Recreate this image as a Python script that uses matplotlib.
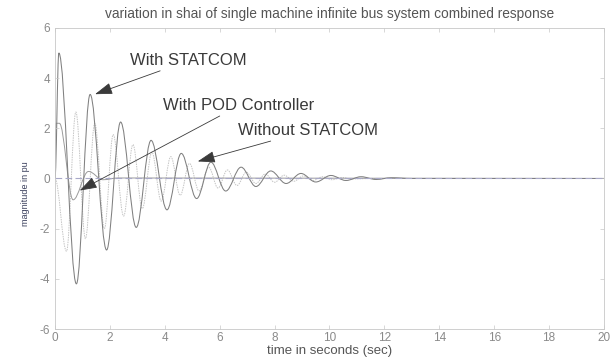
import matplotlib.pyplot as plt
from matplotlib.path import Path
from matplotlib.patches import PathPatch

plt.rcParams['font.family'] = ['Liberation Sans', 'DejaVu Sans']
plt.rcParams['axes.unicode_minus'] = False

# peaks / troughs (time in s, magnitude in pu)
statcom_t = [0.0, 0.14, 0.78, 1.28, 1.88, 2.39, 2.96, 3.5, 4.08, 4.6, 5.16, 5.68,
             6.22, 6.78, 7.32, 7.86, 8.42, 8.96, 9.5, 10.05, 10.6, 11.15, 11.7,
             12.25, 13.0, 20.0]
statcom_y = [0.0, 5.0, -4.2, 3.35, -2.85, 2.25, -1.95, 1.52, -1.25, 1.0, -0.8, 0.65,
             -0.5, 0.45, -0.32, 0.3, -0.2, 0.2, -0.14, 0.12, -0.08, 0.07, -0.04,
             0.03, 0.0, 0.0]

without_t = [0.0, 0.42, 0.76, 1.11, 1.45, 1.8, 2.12, 2.5, 2.84, 3.18, 3.53, 3.87,
             4.22, 4.56, 4.9, 5.25, 5.6, 5.94, 6.28, 6.63, 6.97, 7.32, 7.66, 8.0,
             8.35, 8.7, 9.05, 9.4, 9.75, 10.1, 10.45, 10.8, 11.5, 20.0]
without_y = [0.0, -2.9, 2.65, -2.4, 2.2, -2.0, 1.75, -1.5, 1.35, -1.2, 1.05, -0.9,
             0.87, -0.67, 0.6, -0.5, 0.45, -0.38, 0.34, -0.28, 0.25, -0.2, 0.18,
             -0.15, 0.13, -0.11, 0.1, -0.08, 0.07, -0.05, 0.04, -0.02, 0.0, 0.0]

pod_t = [0.0, 0.04, 0.16, 0.66, 1.22, 1.75, 2.3, 20.0]
pod_y = [0.0, 2.2, 2.2, -0.85, 0.28, -0.05, 0.02, 0.0]

ref_t = [0.0, 20.0]
ref_y = [0.0, 0.0]


def smooth_line(ax, ts, ys, **kw):
    # S-shaped bezier between consecutive extrema (flat tangent at each one)
    verts = [(ts[0], ys[0])]
    codes = [Path.MOVETO]
    for i in range(1, len(ts)):
        dt = ts[i] - ts[i - 1]
        verts += [(ts[i - 1] + 0.36 * dt, ys[i - 1]),
                  (ts[i] - 0.36 * dt, ys[i]),
                  (ts[i], ys[i])]
        codes += [Path.CURVE4] * 3
    ax.add_patch(PathPatch(Path(verts, codes), fill=False, **kw))


fig = plt.figure(figsize=(6.13, 3.61), dpi=100)
ax = fig.add_axes([0.0897, 0.0886, 0.8956, 0.834])

ax.plot(ref_t, ref_y, color='#a8a8c8', lw=0.8, dashes=(6, 3))
smooth_line(ax, without_t, without_y, edgecolor='#c4c4c4', lw=0.7, linestyle=(0, (1.5, 1)))
smooth_line(ax, pod_t, pod_y, edgecolor='#9a9a9a', lw=0.7)
smooth_line(ax, statcom_t, statcom_y, edgecolor='#808080', lw=0.75)

ax.set_xlim(0, 20)
ax.set_ylim(-6, 6)
ax.set_xticks(range(0, 21, 2))
ax.set_yticks(range(-6, 7, 2))
ax.tick_params(direction='in', length=3, width=0.5, colors='#c8c8c8',
               labelcolor='#8a8a8a', labelsize=8.5, top=True, right=True)
ax.tick_params(axis='x', pad=2.5)
for s in ax.spines.values():
    s.set_color('#c8c8c8')
    s.set_linewidth(0.6)

ax.set_title('variation in shai of single machine infinite bus system combined response',
             fontsize=9.9, color='#555555', pad=7)
ax.set_xlabel('time in seconds (sec)', fontsize=9.5, color='#555555', labelpad=0.5)
ax.set_ylabel('magnitude in pu', fontsize=6.5, color='#3a3f5c', labelpad=2)
ax.yaxis.set_label_coords(-0.045, 0.45)

arrow = dict(arrowstyle='-|>,head_length=0.9,head_width=0.3', color='#3a3a3a',
             lw=0.6, shrinkA=0, shrinkB=0)
ax.annotate('With STATCOM', xy=(1.46, 3.36), xytext=(2.75, 4.7),
            fontsize=12, color='#3a3a3a', va='center', arrowprops=arrow)
ax.annotate('With POD Controller', xy=(0.9, -0.48), xytext=(3.95, 2.9),
            fontsize=12, color='#3a3a3a', va='center', arrowprops=arrow)
ax.annotate('Without STATCOM', xy=(5.2, 0.68), xytext=(6.65, 1.9),
            fontsize=12, color='#3a3a3a', va='center', arrowprops=arrow)

fig.savefig('out.png', dpi=100)
